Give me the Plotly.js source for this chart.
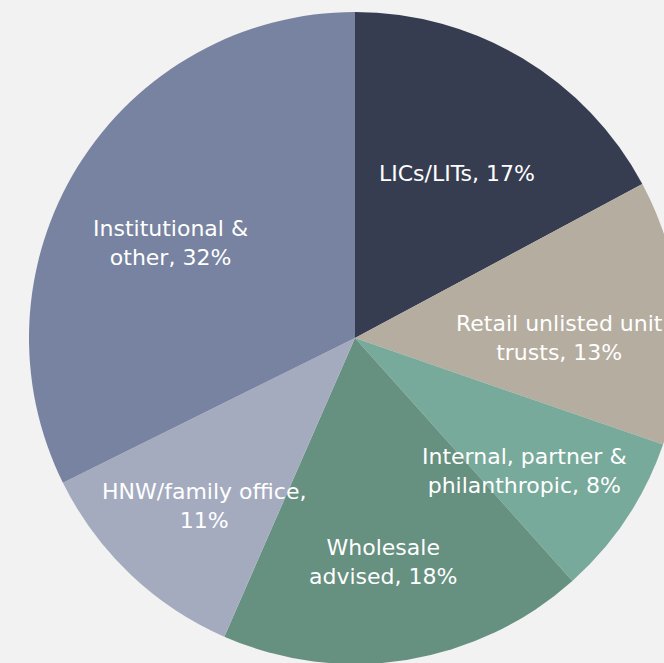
<!DOCTYPE html>
<html>
<head>
<meta charset="utf-8">
<script src="https://cdn.plot.ly/plotly-3.0.1.min.js"></script>
<style>
  html, body { margin: 0; padding: 0; width: 664px; height: 663px; overflow: hidden; background: #f2f2f2; }
  #chart { position: absolute; left: 29px; top: 12px; width: 652px; height: 652px; }
</style>
</head>
<body>
<div id="chart"></div>
<script>
const categories = ["LICs/LITs", "Retail unlisted unit trusts", "Internal, partner & philanthropic", "Wholesale advised", "HNW/family office", "Institutional & other"];
const shares = [17, 13, 8, 18, 11, 32];
const sliceLabels = [
  "LICs/LITs, 17%",
  "Retail unlisted unit<br>trusts, 13%",
  "Internal, partner &<br>philanthropic, 8%",
  "Wholesale<br>advised, 18%",
  "HNW/family office,<br>11%",
  "Institutional &<br>other, 32%"
];
const sliceColors = ["#373d51", "#b5ad9f", "#78aa9b", "#66907f", "#a4abbf", "#7783a0"];

// label anchor points derived from the shares: slice mid-angle (clockwise from 12 o'clock)
const LABEL_R = 0.645;
const total = shares.reduce((a, b) => a + b, 0);
const labelX = [], labelY = [];
let cum = 0;
shares.forEach(v => {
  const mid = (cum + v / 2) / total * 2 * Math.PI;
  labelX.push(LABEL_R * Math.sin(mid));
  labelY.push(LABEL_R * Math.cos(mid));
  cum += v;
});

const pieTrace = {
  type: "pie",
  labels: categories,
  values: shares,
  textinfo: "none",
  hoverinfo: "label+percent",
  sort: false,
  direction: "clockwise",
  rotation: 0,
  marker: { colors: sliceColors, line: { width: 0 } },
  domain: { x: [0, 1], y: [0, 1] }
};

const annotations = sliceLabels.map((t, i) => ({
  x: labelX[i],
  y: labelY[i],
  xref: "x",
  yref: "y",
  text: t,
  showarrow: false,
  xanchor: "center",
  yanchor: "middle",
  align: "center",
  font: { family: "'DejaVu Sans', sans-serif", size: 22, color: "#ffffff" }
}));

Plotly.newPlot("chart", [pieTrace], {
  width: 652,
  height: 652,
  margin: { l: 0, r: 0, t: 0, b: 0, pad: 0 },
  paper_bgcolor: "rgba(0,0,0,0)",
  plot_bgcolor: "rgba(0,0,0,0)",
  showlegend: false,
  xaxis: { range: [-0.983, 1.017], visible: false, fixedrange: true },
  yaxis: { range: [-0.95, 1.05], visible: false, fixedrange: true },
  annotations: annotations
}, { displayModeBar: false, staticPlot: true });
</script>
</body>
</html>
